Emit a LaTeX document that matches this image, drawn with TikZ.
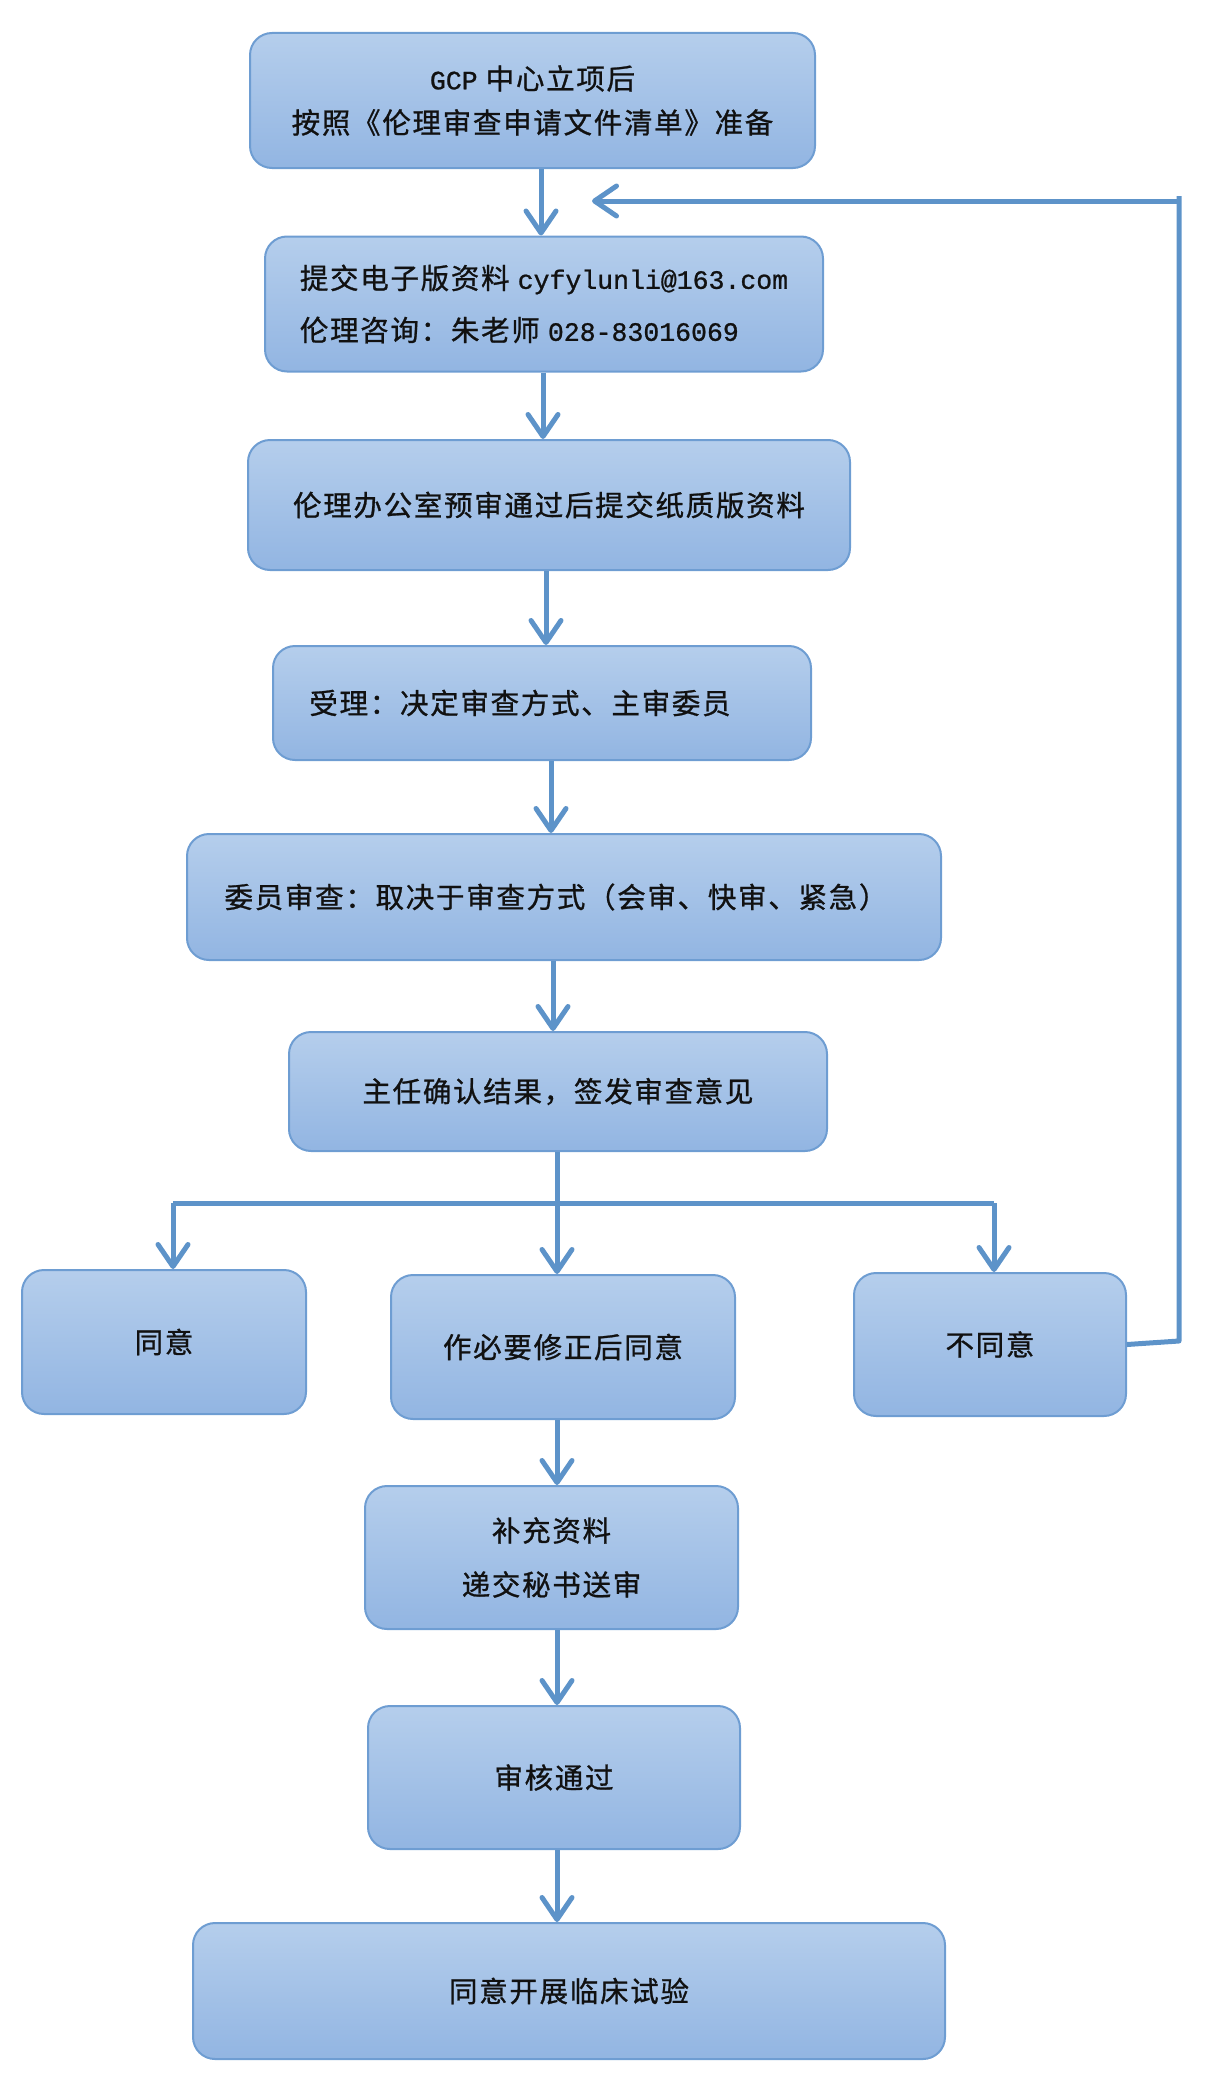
\documentclass[tikz,border=0pt]{standalone}
\usepackage{fontspec}
\usetikzlibrary{arrows.meta}
\newfontfamily\cjk[LetterSpace=6,FakeBold=0.9]{Noto Sans CJK SC}
\newfontfamily\lat[Scale=0.93,FakeBold=0.9]{Liberation Mono}
\definecolor{linecol}{HTML}{5D93C9}
\definecolor{bordercol}{HTML}{6E9DD2}
\definecolor{filltop}{HTML}{B5CEEC}
\definecolor{fillbot}{HTML}{92B5E2}
\definecolor{txt}{HTML}{111111}
\tikzset{
  box/.style={draw=bordercol, line width=2pt, rounded corners=22pt,
    top color=filltop, bottom color=fillbot, inner sep=0pt,
    text=txt, align=center, font=\cjk\fontsize{28.5}{44}\selectfont},
  ln/.style={draw=linecol, line width=5pt, line join=round},
  arr/.style={ln, -{Straight Barb[length=22pt,width=30pt,round]}}
}
\begin{document}
\begin{tikzpicture}[x=1pt,y=-1pt]
\useasboundingbox (0,0) rectangle (1228,2098);
\node[box, minimum width=565pt, minimum height=135pt] (b1) at (532.5,100.5)
  {{\lat GCP} 中心立项后\\按照《伦理审查申请文件清单》准备};
\node[box, minimum width=558pt, minimum height=135pt, align=left] (b2) at (544,304)
  {提交电子版资料 {\lat cyfylunli@163.com}\\[8pt]伦理咨询：朱老师 {\lat 028-83016069}};
\node[box, minimum width=602pt, minimum height=130pt] (b3) at (549,505)
  {伦理办公室预审通过后提交纸质版资料};
\node[box, minimum width=538pt, minimum height=114pt] (b4) at (542,703)
  {受理：决定审查方式、主审委员\hspace*{44pt}};
\node[box, minimum width=754pt, minimum height=126pt] (b5) at (564,897)
  {委员审查：取决于审查方式（会审、快审、紧急）\hspace*{16pt}};
\node[box, minimum width=538pt, minimum height=119pt] (b6) at (558,1091.5)
  {主任确认结果，签发审查意见};
\node[box, minimum width=284pt, minimum height=144pt] (n1) at (164,1342) {同意};
\node[box, minimum width=344pt, minimum height=144pt] (n2) at (563,1347) {作必要修正后同意};
\node[box, minimum width=272pt, minimum height=143pt] (n3) at (990,1344.5) {不同意};
\node[box, minimum width=373pt, minimum height=143pt] (b7) at (551.5,1557.5)
  {补充资料\\[10pt]递交秘书送审};
\node[box, minimum width=372pt, minimum height=143pt] (b8) at (554,1777.5) {审核通过};
\node[box, minimum width=752pt, minimum height=136pt] (b9) at (569,1991) {同意开展临床试验};
% main arrows
\coordinate (x1) at (541,0);
\coordinate (x2) at (543,0);
\coordinate (x3) at (546,0);
\coordinate (x4) at (551,0);
\coordinate (x5) at (553,0);
\coordinate (x6) at (557,0);
\draw[arr] (b1.south -| x1) -- (b2.north -| x1);
\draw[arr] (b2.south -| x2) -- (b3.north -| x2);
\draw[arr] (b3.south -| x3) -- (b4.north -| x3);
\draw[arr] (b4.south -| x4) -- (b5.north -| x4);
\draw[arr] (b5.south -| x5) -- (b6.north -| x5);
% branch
\coordinate (bm) at (557,1203);
\coordinate (bl) at (173,1203);
\coordinate (bra) at (994,1203);
\draw[ln] (b6.south -| bm) -- (bm);
\draw[ln] (bl) -- (bra);
\draw[arr] (bl) -- (n1.north -| bl);
\draw[arr] (bm) -- (n2.north -| bm);
\draw[arr] (bra) -- (n3.north -| bra);
% lower arrows
\draw[arr] (n2.south -| x6) -- (b7.north -| x6);
\draw[arr] (b7.south -| x6) -- (b8.north -| x6);
\draw[arr] (b8.south -| x6) -- (b9.north -| x6);
% feedback
\coordinate (fr) at (1179,1341);
\coordinate (ft) at (1179,201);
\coordinate (fbtip) at (592,201);
\draw[ln] (n3.east) -- (fr) -- (1179,196);
\draw[arr] (ft) -- (fbtip);
\end{tikzpicture}
\end{document}
